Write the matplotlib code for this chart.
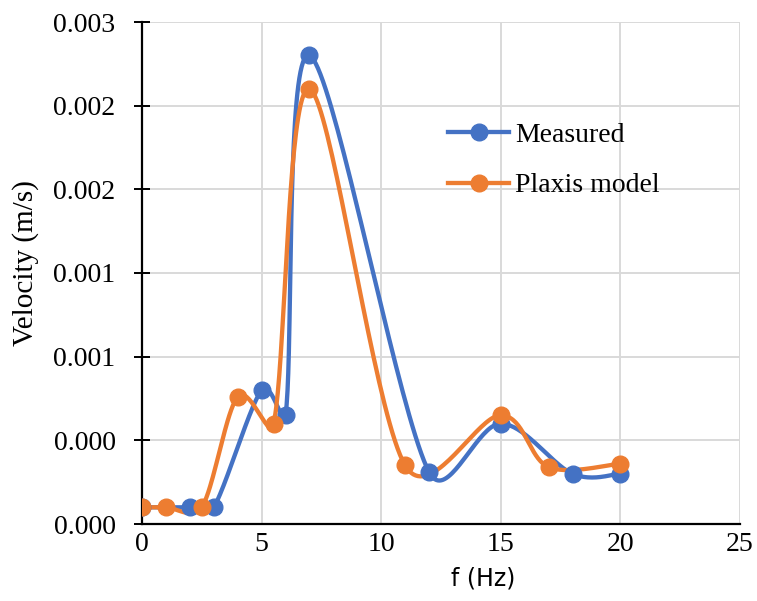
import numpy as np
import matplotlib
matplotlib.use("Agg")
import matplotlib.pyplot as plt

# Data
measured_f = [0, 2, 3, 5, 6, 7, 12, 15, 18, 20]
measured_v = [0.0001, 0.0001, 0.0001, 0.0008, 0.00065, 0.0028, 0.00031, 0.0006, 0.0003, 0.0003]

plaxis_f = [0, 1, 2.5, 4, 5.5, 7, 11, 15, 17, 20]
plaxis_v = [0.0001, 0.0001, 0.0001, 0.00076, 0.0006, 0.0026, 0.00035, 0.00065, 0.00034, 0.00036]

y_ticks = [0, 0.0005, 0.001, 0.0015, 0.002, 0.0025, 0.003]
y_tick_labels = ["0.000", "0.000", "0.001", "0.001", "0.002", "0.002", "0.003"]
x_ticks = [0, 5, 10, 15, 20, 25]

BLUE = '#4472C4'
ORANGE = '#ED7D31'
SERIF = 'Liberation Serif'

XMAX, YMAX = 25, 0.003
AX_W, AX_H = 598, 502  # axes size in pixels


def smooth(xs, ys, n=40, clamp=0.45):
    # Excel-like smoothed line: Catmull-Rom Bezier in screen space, with each
    # handle kept shorter than a share of its own segment
    sx, sy = AX_W / XMAX, AX_H / YMAX
    p = np.column_stack([np.asarray(xs) * sx, np.asarray(ys) * sy]).astype(float)
    q = np.vstack([p[0], p, p[-1]])
    t = np.linspace(0, 1, n)[:, None]
    out = []
    for i in range(1, len(q) - 2):
        p0, p1, p2, p3 = q[i - 1], q[i], q[i + 1], q[i + 2]
        seg = np.hypot(*(p2 - p1))
        h1 = (p2 - p0) / 6.0
        h2 = (p3 - p1) / 6.0
        for h in (h1, h2):
            L = np.hypot(*h)
            if L > clamp * seg:
                h *= clamp * seg / L
        c1 = p1 + h1
        c2 = p2 - h2
        b = ((1 - t) ** 3) * p1 + 3 * ((1 - t) ** 2) * t * c1 + 3 * (1 - t) * t ** 2 * c2 + t ** 3 * p2
        out.append(b if i == 1 else b[1:])
    out = np.vstack(out)
    return out[:, 0] / sx, out[:, 1] / sy


fig = plt.figure(figsize=(7.57, 6.01), dpi=100)
ax = fig.add_axes([142 / 757, 77 / 601, AX_W / 757, AX_H / 601])

for fx, vy, col, lab in [(measured_f, measured_v, BLUE, 'Measured'),
                         (plaxis_f, plaxis_v, ORANGE, 'Plaxis model')]:
    cx, cy = smooth(fx, vy)
    ax.plot(cx, cy, color=col, lw=3.1, solid_capstyle='round', zorder=3)
    ax.plot(fx, vy, 'o', color=col, ms=12, zorder=4)
    ax.plot([], [], '-o', color=col, lw=3.1, ms=12, label=lab)

ax.set_xlim(0, XMAX)
ax.set_ylim(0, YMAX)
ax.set_xticks(x_ticks)
ax.set_yticks(y_ticks)
ax.set_yticklabels(y_tick_labels)
ax.grid(True, color='#d9d9d9', lw=1.4)
ax.set_axisbelow(True)

for s in ['top', 'right']:
    ax.spines[s].set_visible(False)
for s in ['left', 'bottom']:
    ax.spines[s].set_color('black')
    ax.spines[s].set_linewidth(1.6)

ax.tick_params(axis='y', direction='inout', length=12, width=1.4, pad=13)
ax.tick_params(axis='x', direction='inout', length=0, pad=6)
for lbl in ax.get_xticklabels() + ax.get_yticklabels():
    lbl.set_fontfamily(SERIF)
    lbl.set_fontsize(20)

ax.set_xlabel('f (Hz)', fontsize=17, family='DejaVu Sans')
ax.xaxis.set_label_coords(0.57, -0.084)
ax.set_ylabel('Velocity (m/s)', fontsize=21, family=SERIF)
ax.yaxis.set_label_coords(-0.172, 0.52)

ax.legend(loc='upper left', bbox_to_anchor=(0.512, 0.80), frameon=False,
          borderpad=0, borderaxespad=0,
          prop={'family': SERIF, 'size': 20}, handlelength=2.2,
          handletextpad=0.2, labelspacing=0.9)

fig.savefig('out.png', dpi=100)
